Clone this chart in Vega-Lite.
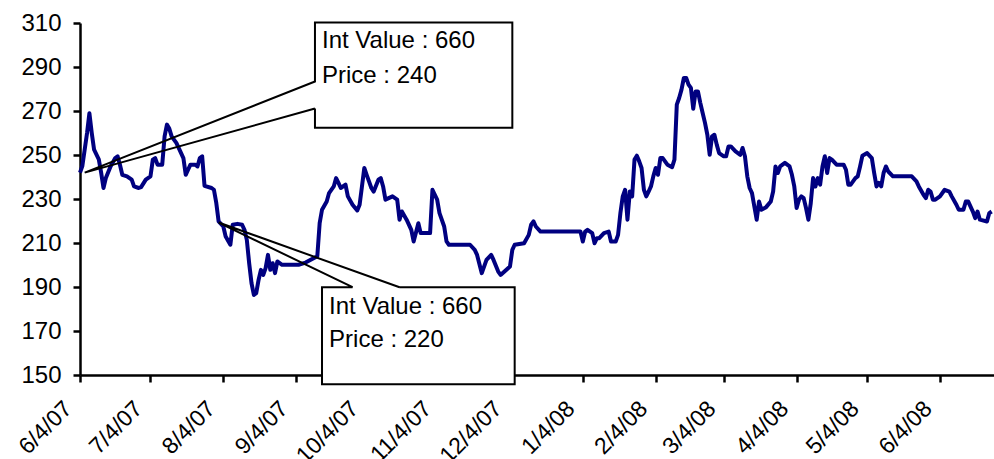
{
  "$schema": "https://vega.github.io/schema/vega-lite/v6.json",
  "width": 914,
  "height": 352,
  "autosize": {"type": "none"},
  "padding": {"left": 80, "top": 23, "right": 0, "bottom": 84},
  "background": "white",
  "config": {
    "view": {"stroke": null},
    "axis": {
      "grid": false,
      "title": null,
      "domainColor": "#000000",
      "domainWidth": 2.5,
      "tickColor": "#000000",
      "tickWidth": 2.5,
      "tickSize": 7,
      "labelColor": "#000000",
      "labelFont": "Liberation Sans",
      "labelFontSize": 24
    }
  },
  "encoding": {
    "x": {
      "field": "date",
      "type": "temporal",
      "scale": {"domain": [{"year": 2007, "month": 6, "date": 4}, {"year": 2008, "month": 6, "date": 27}]},
      "axis": {
        "title": null,
        "format": "%-m/%-d/%y",
        "labelAngle": -45,
        "labelFontSize": 23,
        "labelPadding": 15,
        "labelOffset": -20,
        "labelFlush": false,
        "labelOverlap": false,
        "values": [
          {"year": 2007, "month": 6, "date": 4},
          {"year": 2007, "month": 7, "date": 4},
          {"year": 2007, "month": 8, "date": 4},
          {"year": 2007, "month": 9, "date": 4},
          {"year": 2007, "month": 10, "date": 4},
          {"year": 2007, "month": 11, "date": 4},
          {"year": 2007, "month": 12, "date": 4},
          {"year": 2008, "month": 1, "date": 4},
          {"year": 2008, "month": 2, "date": 4},
          {"year": 2008, "month": 3, "date": 4},
          {"year": 2008, "month": 4, "date": 4},
          {"year": 2008, "month": 5, "date": 4},
          {"year": 2008, "month": 6, "date": 4}
        ]
      }
    },
    "y": {
      "field": "price",
      "type": "quantitative",
      "scale": {"domain": [150, 310], "nice": false, "zero": false},
      "axis": {"title": null, "values": [150, 170, 190, 210, 230, 250, 270, 290, 310], "labelFontSize": 24, "labelPadding": 12, "labelFlush": false}
    }
  },
  "layer": [
    {
      "data": {
        "values": [
          {"date": "2007/06/04", "price": 242}, {"date": "2007/06/05", "price": 245}, {"date": "2007/06/07", "price": 260},
          {"date": "2007/06/08", "price": 269}, {"date": "2007/06/09", "price": 260}, {"date": "2007/06/10", "price": 252.4},
          {"date": "2007/06/12", "price": 248}, {"date": "2007/06/13", "price": 242}, {"date": "2007/06/14", "price": 235},
          {"date": "2007/06/15", "price": 239.5}, {"date": "2007/06/17", "price": 244.8}, {"date": "2007/06/19", "price": 248.6},
          {"date": "2007/06/20", "price": 249.4}, {"date": "2007/06/21", "price": 245.6}, {"date": "2007/06/22", "price": 241},
          {"date": "2007/06/24", "price": 240.3}, {"date": "2007/06/26", "price": 238.8}, {"date": "2007/06/27", "price": 235.7},
          {"date": "2007/06/29", "price": 235}, {"date": "2007/06/30", "price": 235.4},
          {"date": "2007/07/02", "price": 238.8}, {"date": "2007/07/04", "price": 240.3}, {"date": "2007/07/05", "price": 247.9},
          {"date": "2007/07/06", "price": 248.6}, {"date": "2007/07/07", "price": 245.6}, {"date": "2007/07/09", "price": 245.6},
          {"date": "2007/07/10", "price": 258.5}, {"date": "2007/07/11", "price": 263.8}, {"date": "2007/07/12", "price": 262},
          {"date": "2007/07/13", "price": 258.5}, {"date": "2007/07/15", "price": 255.5}, {"date": "2007/07/16", "price": 253.2},
          {"date": "2007/07/18", "price": 248.6}, {"date": "2007/07/19", "price": 241}, {"date": "2007/07/20", "price": 243.3},
          {"date": "2007/07/21", "price": 245.6}, {"date": "2007/07/23", "price": 245.6}, {"date": "2007/07/24", "price": 244.8},
          {"date": "2007/07/25", "price": 248.6}, {"date": "2007/07/26", "price": 249.4}, {"date": "2007/07/27", "price": 236},
          {"date": "2007/07/30", "price": 235}, {"date": "2007/07/31", "price": 234.2},
          {"date": "2007/08/01", "price": 228.2}, {"date": "2007/08/02", "price": 219.8}, {"date": "2007/08/04", "price": 217.5},
          {"date": "2007/08/05", "price": 212.9}, {"date": "2007/08/07", "price": 209.2}, {"date": "2007/08/08", "price": 218.3},
          {"date": "2007/08/10", "price": 218.7}, {"date": "2007/08/12", "price": 218.3}, {"date": "2007/08/13", "price": 216},
          {"date": "2007/08/14", "price": 211.4}, {"date": "2007/08/15", "price": 200.8}, {"date": "2007/08/16", "price": 191.7},
          {"date": "2007/08/17", "price": 186.4}, {"date": "2007/08/18", "price": 187.2}, {"date": "2007/08/19", "price": 193.2},
          {"date": "2007/08/20", "price": 197.8}, {"date": "2007/08/21", "price": 195.5}, {"date": "2007/08/22", "price": 198.6},
          {"date": "2007/08/23", "price": 204.6}, {"date": "2007/08/24", "price": 197.8}, {"date": "2007/08/25", "price": 200.8},
          {"date": "2007/08/26", "price": 196.3}, {"date": "2007/08/27", "price": 201.6}, {"date": "2007/08/29", "price": 200.1},
          {"date": "2007/09/01", "price": 200.1}, {"date": "2007/09/05", "price": 200.1}, {"date": "2007/09/08", "price": 201.1},
          {"date": "2007/09/13", "price": 204}, {"date": "2007/09/14", "price": 219}, {"date": "2007/09/15", "price": 225.1},
          {"date": "2007/09/17", "price": 228.9}, {"date": "2007/09/18", "price": 232.7}, {"date": "2007/09/20", "price": 235.7},
          {"date": "2007/09/21", "price": 239.5}, {"date": "2007/09/22", "price": 237.3}, {"date": "2007/09/23", "price": 235},
          {"date": "2007/09/25", "price": 236.5}, {"date": "2007/09/26", "price": 231.2}, {"date": "2007/09/28", "price": 227.4},
          {"date": "2007/09/30", "price": 224.8},
          {"date": "2007/10/01", "price": 227.4}, {"date": "2007/10/02", "price": 235.7}, {"date": "2007/10/03", "price": 244.1},
          {"date": "2007/10/04", "price": 241}, {"date": "2007/10/05", "price": 238}, {"date": "2007/10/06", "price": 235},
          {"date": "2007/10/07", "price": 233.4}, {"date": "2007/10/09", "price": 238.8}, {"date": "2007/10/10", "price": 239.5},
          {"date": "2007/10/11", "price": 235.7}, {"date": "2007/10/12", "price": 229.7}, {"date": "2007/10/15", "price": 231.2},
          {"date": "2007/10/17", "price": 229.7}, {"date": "2007/10/18", "price": 220.6}, {"date": "2007/10/19", "price": 224.3},
          {"date": "2007/10/21", "price": 220.6}, {"date": "2007/10/23", "price": 216}, {"date": "2007/10/24", "price": 210.7},
          {"date": "2007/10/26", "price": 219}, {"date": "2007/10/27", "price": 214.5}, {"date": "2007/10/31", "price": 214.5},
          {"date": "2007/11/01", "price": 234.2}, {"date": "2007/11/03", "price": 229.7}, {"date": "2007/11/04", "price": 223.6},
          {"date": "2007/11/06", "price": 217.5}, {"date": "2007/11/07", "price": 210.7}, {"date": "2007/11/08", "price": 209.2},
          {"date": "2007/11/17", "price": 209.2}, {"date": "2007/11/19", "price": 206.9}, {"date": "2007/11/20", "price": 204.6},
          {"date": "2007/11/22", "price": 196.3}, {"date": "2007/11/24", "price": 202.3}, {"date": "2007/11/26", "price": 204.6},
          {"date": "2007/11/27", "price": 202.3}, {"date": "2007/11/29", "price": 197}, {"date": "2007/11/30", "price": 195.5},
          {"date": "2007/12/04", "price": 199.3}, {"date": "2007/12/05", "price": 206.9}, {"date": "2007/12/06", "price": 209.2},
          {"date": "2007/12/10", "price": 209.9}, {"date": "2007/12/12", "price": 213.7}, {"date": "2007/12/13", "price": 218.3},
          {"date": "2007/12/14", "price": 219.8}, {"date": "2007/12/15", "price": 217.5}, {"date": "2007/12/17", "price": 215.2},
          {"date": "2007/12/19", "price": 215.2},
          {"date": "2008/01/03", "price": 215.2}, {"date": "2008/01/04", "price": 210.7}, {"date": "2008/01/05", "price": 215.2},
          {"date": "2008/01/06", "price": 216}, {"date": "2008/01/08", "price": 214.5}, {"date": "2008/01/09", "price": 209.9},
          {"date": "2008/01/10", "price": 212.2}, {"date": "2008/01/11", "price": 212.2}, {"date": "2008/01/13", "price": 214.5},
          {"date": "2008/01/15", "price": 215.2}, {"date": "2008/01/16", "price": 210.7}, {"date": "2008/01/18", "price": 210.7},
          {"date": "2008/01/19", "price": 213.7}, {"date": "2008/01/20", "price": 223.6}, {"date": "2008/01/21", "price": 231.2},
          {"date": "2008/01/22", "price": 234.2}, {"date": "2008/01/23", "price": 220.6}, {"date": "2008/01/24", "price": 233.4},
          {"date": "2008/01/25", "price": 231.2}, {"date": "2008/01/26", "price": 247.9}, {"date": "2008/01/27", "price": 249.7},
          {"date": "2008/01/28", "price": 247.1}, {"date": "2008/01/29", "price": 244.1}, {"date": "2008/01/30", "price": 234.2},
          {"date": "2008/01/31", "price": 231.2},
          {"date": "2008/02/01", "price": 233.4}, {"date": "2008/02/02", "price": 235.7}, {"date": "2008/02/03", "price": 240.3},
          {"date": "2008/02/04", "price": 244.1}, {"date": "2008/02/05", "price": 241}, {"date": "2008/02/06", "price": 248.6},
          {"date": "2008/02/07", "price": 248.6}, {"date": "2008/02/09", "price": 245.6}, {"date": "2008/02/11", "price": 244.5},
          {"date": "2008/02/12", "price": 247.9}, {"date": "2008/02/13", "price": 272.9}, {"date": "2008/02/14", "price": 275.9},
          {"date": "2008/02/15", "price": 279.7}, {"date": "2008/02/16", "price": 285}, {"date": "2008/02/17", "price": 285},
          {"date": "2008/02/18", "price": 282}, {"date": "2008/02/19", "price": 280.5}, {"date": "2008/02/20", "price": 271},
          {"date": "2008/02/21", "price": 278.9}, {"date": "2008/02/22", "price": 278.9}, {"date": "2008/02/23", "price": 273.7},
          {"date": "2008/02/24", "price": 269.1}, {"date": "2008/02/25", "price": 264.6}, {"date": "2008/02/26", "price": 259.2},
          {"date": "2008/02/27", "price": 250.1}, {"date": "2008/02/28", "price": 258.5}, {"date": "2008/02/29", "price": 259.2},
          {"date": "2008/03/01", "price": 254.7}, {"date": "2008/03/02", "price": 250.9}, {"date": "2008/03/04", "price": 249.4},
          {"date": "2008/03/05", "price": 249.4}, {"date": "2008/03/06", "price": 253.9}, {"date": "2008/03/07", "price": 253.9},
          {"date": "2008/03/09", "price": 251.6}, {"date": "2008/03/11", "price": 250.1}, {"date": "2008/03/12", "price": 253.2},
          {"date": "2008/03/13", "price": 249.4}, {"date": "2008/03/14", "price": 240.3}, {"date": "2008/03/15", "price": 235},
          {"date": "2008/03/16", "price": 232.7}, {"date": "2008/03/17", "price": 226.6}, {"date": "2008/03/18", "price": 220.6},
          {"date": "2008/03/19", "price": 228.9}, {"date": "2008/03/20", "price": 225.1}, {"date": "2008/03/22", "price": 226.3},
          {"date": "2008/03/24", "price": 228.9}, {"date": "2008/03/25", "price": 233.4}, {"date": "2008/03/26", "price": 244.8},
          {"date": "2008/03/27", "price": 241.8}, {"date": "2008/03/28", "price": 244.8}, {"date": "2008/03/30", "price": 246.4},
          {"date": "2008/04/01", "price": 244.8}, {"date": "2008/04/02", "price": 241}, {"date": "2008/04/03", "price": 235.7},
          {"date": "2008/04/04", "price": 225.9}, {"date": "2008/04/05", "price": 229.7}, {"date": "2008/04/06", "price": 231.2},
          {"date": "2008/04/07", "price": 230.4}, {"date": "2008/04/08", "price": 225.9}, {"date": "2008/04/09", "price": 220.6},
          {"date": "2008/04/10", "price": 228}, {"date": "2008/04/11", "price": 239.5}, {"date": "2008/04/12", "price": 235.7},
          {"date": "2008/04/13", "price": 239.5}, {"date": "2008/04/14", "price": 236.5}, {"date": "2008/04/15", "price": 244.8},
          {"date": "2008/04/16", "price": 249.4}, {"date": "2008/04/17", "price": 241.8}, {"date": "2008/04/18", "price": 248.6},
          {"date": "2008/04/19", "price": 247.9}, {"date": "2008/04/21", "price": 245.6}, {"date": "2008/04/24", "price": 245.6},
          {"date": "2008/04/25", "price": 243.3}, {"date": "2008/04/26", "price": 236.5}, {"date": "2008/04/27", "price": 236.5},
          {"date": "2008/04/29", "price": 239.5}, {"date": "2008/04/30", "price": 240.3},
          {"date": "2008/05/01", "price": 244.8}, {"date": "2008/05/02", "price": 249.7}, {"date": "2008/05/04", "price": 250.9},
          {"date": "2008/05/06", "price": 248.6}, {"date": "2008/05/07", "price": 241.8}, {"date": "2008/05/08", "price": 235.7},
          {"date": "2008/05/09", "price": 237.3}, {"date": "2008/05/10", "price": 235.7}, {"date": "2008/05/11", "price": 241.8},
          {"date": "2008/05/12", "price": 244.8}, {"date": "2008/05/13", "price": 242.5}, {"date": "2008/05/15", "price": 240.3},
          {"date": "2008/05/23", "price": 240.3}, {"date": "2008/05/25", "price": 238}, {"date": "2008/05/26", "price": 235.7},
          {"date": "2008/05/28", "price": 231.9}, {"date": "2008/05/29", "price": 230.4}, {"date": "2008/05/30", "price": 234.2},
          {"date": "2008/05/31", "price": 233.4},
          {"date": "2008/06/01", "price": 229.7}, {"date": "2008/06/02", "price": 229.7}, {"date": "2008/06/04", "price": 231.2},
          {"date": "2008/06/06", "price": 234.2}, {"date": "2008/06/08", "price": 233.4}, {"date": "2008/06/09", "price": 231.2},
          {"date": "2008/06/11", "price": 227.4}, {"date": "2008/06/12", "price": 225.1}, {"date": "2008/06/14", "price": 225.1},
          {"date": "2008/06/15", "price": 228.9}, {"date": "2008/06/16", "price": 228.9}, {"date": "2008/06/18", "price": 224.3},
          {"date": "2008/06/19", "price": 221.3}, {"date": "2008/06/20", "price": 224.3}, {"date": "2008/06/21", "price": 220.6},
          {"date": "2008/06/24", "price": 219.8}, {"date": "2008/06/25", "price": 223.6}, {"date": "2008/06/26", "price": 224.3}
        ],
        "format": {"parse": {"date": "date"}}
      },
      "mark": {"type": "line", "color": "#000080", "strokeWidth": 4, "strokeJoin": "round"}
    },
    {
      "data": {
        "values": [
          {"date": "2007/09/12", "date2": "2007/12/05", "price": 262.4, "price2": 310.2},
          {"date": "2007/09/15", "date2": "2007/12/06", "price": 145.8, "price2": 189.9}
        ],
        "format": {"parse": {"date": "date", "date2": "date"}}
      },
      "mark": {"type": "rect", "fill": "#ffffff", "stroke": null},
      "encoding": {"x2": {"field": "date2"}, "y2": {"field": "price2"}}
    },
    {
      "data": {
        "values": [
          {"c": 1, "o": 1, "date": "2007/09/12", "price": 271.1},
          {"c": 1, "o": 2, "date": "2007/09/12", "price": 262.4},
          {"c": 1, "o": 3, "date": "2007/12/05", "price": 262.4},
          {"c": 1, "o": 4, "date": "2007/12/05", "price": 310.2},
          {"c": 1, "o": 5, "date": "2007/09/12", "price": 310.2},
          {"c": 1, "o": 6, "date": "2007/09/12", "price": 283.4},
          {"c": 1, "o": 7, "date": "2007/06/06", "price": 242},
          {"c": 1, "o": 8, "date": "2007/09/12", "price": 271.1},
          {"c": 2, "o": 1, "date": "2007/10/18", "price": 189.9},
          {"c": 2, "o": 2, "date": "2007/12/06", "price": 189.9},
          {"c": 2, "o": 3, "date": "2007/12/06", "price": 145.8},
          {"c": 2, "o": 4, "date": "2007/09/15", "price": 145.8},
          {"c": 2, "o": 5, "date": "2007/09/15", "price": 189.9},
          {"c": 2, "o": 6, "date": "2007/09/28", "price": 189.9},
          {"c": 2, "o": 7, "date": "2007/08/02", "price": 219.3},
          {"c": 2, "o": 8, "date": "2007/10/18", "price": 189.9}
        ],
        "format": {"parse": {"date": "date"}}
      },
      "mark": {"type": "line", "color": "#000000", "strokeWidth": 2, "strokeJoin": "miter"},
      "encoding": {"detail": {"field": "c", "type": "nominal"}, "order": {"field": "o", "type": "quantitative"}}
    },
    {
      "data": {
        "values": [
          {"date": "2007/09/15", "price": 301.6, "label": "Int Value : 660"},
          {"date": "2007/09/15", "price": 286.1, "label": "Price : 240"},
          {"date": "2007/09/18", "price": 181.1, "label": "Int Value : 660"},
          {"date": "2007/09/18", "price": 165.9, "label": "Price : 220"}
        ],
        "format": {"parse": {"date": "date"}}
      },
      "mark": {"type": "text", "align": "left", "baseline": "middle", "font": "Liberation Sans", "fontSize": 24, "color": "#000000"},
      "encoding": {"text": {"field": "label", "type": "nominal"}}
    }
  ]
}
